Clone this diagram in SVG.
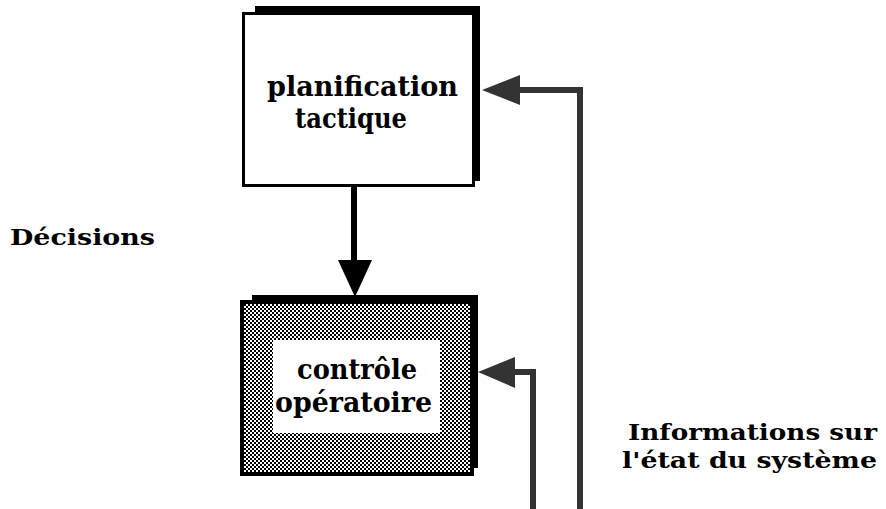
<svg xmlns="http://www.w3.org/2000/svg" width="886" height="509" viewBox="0 0 886 509">
  <style>
    .box-text { font-family: "DejaVu Serif", "Liberation Serif", serif; font-weight: bold; font-size: 27px; fill: #000; }
    .label { font-family: "DejaVu Serif", "Liberation Serif", serif; font-weight: bold; font-size: 23px; fill: #000; }
    .shadow { fill: #000; }
    .gray-line { fill: none; stroke: #333; stroke-width: 6; }
    .gray-head { fill: #333; }
  </style>
  <defs>
    <pattern id="dither" x="0" y="0" width="4" height="4" patternUnits="userSpaceOnUse">
      <rect width="4" height="4" fill="#fff"/>
      <rect x="0" y="0" width="2" height="2" fill="#000"/>
      <rect x="2" y="2" width="2" height="2" fill="#000"/>
    </pattern>
  </defs>
  <rect width="886" height="509" fill="#fff"/>

  <g id="planification">
    <rect class="shadow" x="255" y="6" width="225" height="175"/>
    <rect x="243.5" y="13.5" width="230" height="172" fill="#fff" stroke="#000" stroke-width="3"/>
    <text class="box-text" x="267" y="96" textLength="191" lengthAdjust="spacingAndGlyphs">planification</text>
    <text class="box-text" x="295" y="128" textLength="112" lengthAdjust="spacingAndGlyphs">tactique</text>
  </g>

  <g id="controle">
    <rect class="shadow" x="252" y="295" width="226" height="173"/>
    <rect x="242" y="302" width="230" height="172" fill="url(#dither)" stroke="#000" stroke-width="4"/>
    <rect x="273" y="340" width="167" height="93" fill="#fff"/>
    <text class="box-text" x="297" y="379" textLength="120" lengthAdjust="spacingAndGlyphs">contrôle</text>
    <text class="box-text" x="275" y="412" textLength="157" lengthAdjust="spacingAndGlyphs">opératoire</text>
  </g>

  <g id="decisions">
    <text class="label" x="10" y="245" font-size="27" textLength="145" lengthAdjust="spacingAndGlyphs">Décisions</text>
  </g>

  <g id="informations">
    <text class="label" x="628" y="440" textLength="249" lengthAdjust="spacingAndGlyphs">Informations sur</text>
    <text class="label" x="622" y="468" textLength="255" lengthAdjust="spacingAndGlyphs">l'état du système</text>
  </g>

  <g id="connectors">
    <line x1="354" y1="186" x2="354" y2="262" stroke="#000" stroke-width="6"/>
    <polygon points="338,260 372,260 355,297" fill="#000"/>
    <polyline class="gray-line" points="518,90 580,90 580,509"/>
    <polygon class="gray-head" points="482,90 520,75 520,105"/>
    <polyline class="gray-line" points="513,372 533,372 533,509"/>
    <polygon class="gray-head" points="478,372 515,357 515,388"/>
  </g>
</svg>
